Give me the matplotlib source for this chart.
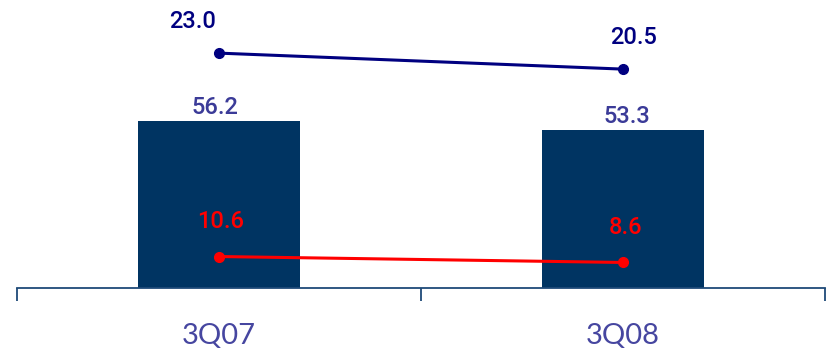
import numpy as np
import matplotlib.pyplot as plt

plt.rcParams['font.family'] = ['Roboto', 'DejaVu Sans']

quarters = ['3Q07', '3Q08']
bar_vals = [56.2, 53.3]
top_line = [23.0, 20.5]
low_line = [10.6, 8.6]

bar_color = '#003462'
navy = '#000080'
red = '#ff0000'
label_blue = '#3b3b98'
axis_color = '#1f4a78'

fig = plt.figure(figsize=(8.36, 3.54), dpi=100)
ax = fig.add_axes([17 / 836, 1 - 288 / 354, 808 / 836, 288 / 354])
x = np.arange(len(quarters))

ax.bar(x, bar_vals, width=0.4, color=bar_color, zorder=1)
ax.plot(x, low_line, color=red, lw=2.2, marker='o', ms=7, zorder=3)
ax.set_ylim(0, 97)
ax.set_xlim(-0.5, 1.5)

# navy series sits on its own scale
ax2 = ax.twinx()
ax2.plot(x, top_line, color=navy, lw=2.2, marker='o', ms=7, zorder=3)
ax2.set_ylim(-13.7, 31.3)
ax2.axis('off')

for s in ['top', 'left', 'right']:
    ax.spines[s].set_visible(False)
ax.spines['bottom'].set_color(axis_color)
ax.spines['bottom'].set_linewidth(1.3)
ax.set_yticks([])
ax.set_xticks([-0.5, 0.5, 1.5])
ax.set_xticklabels([])
ax.tick_params(axis='x', length=9, width=1.3, color=axis_color, direction='out')

# category labels
for xi, q in zip(x, quarters):
    ax.text(xi, -0.165, q, transform=ax.get_xaxis_transform(), ha='center', va='center',
            fontsize=21, color='#4646a0', family=['Lato', 'DejaVu Sans'], fontweight='normal')

# value labels
bar_dx = [-0.01, 0.01]
for xi, v, dx in zip(x, bar_vals, bar_dx):
    ax.annotate(f'{v:.1f}', (xi + dx, v), xytext=(0, 9.5), textcoords='offset points',
                ha='center', va='center', fontsize=17, color=label_blue, fontweight='medium')
low_dx = [0.005, 0.007]
for xi, v, dx in zip(x, low_line, low_dx):
    ax.annotate(f'{v:.1f}', (xi + dx, v), xytext=(0, 25), textcoords='offset points',
                ha='center', va='center', fontsize=17, color=red, fontweight='medium')
top_dx = [-0.065, 0.025]
for xi, v, dx in zip(x, top_line, top_dx):
    ax2.annotate(f'{v:.1f}', (xi + dx, v), xytext=(0, 22.5), textcoords='offset points',
                 ha='center', va='center', fontsize=17, color=navy, fontweight='medium')

fig.savefig('out.png', dpi=100)
